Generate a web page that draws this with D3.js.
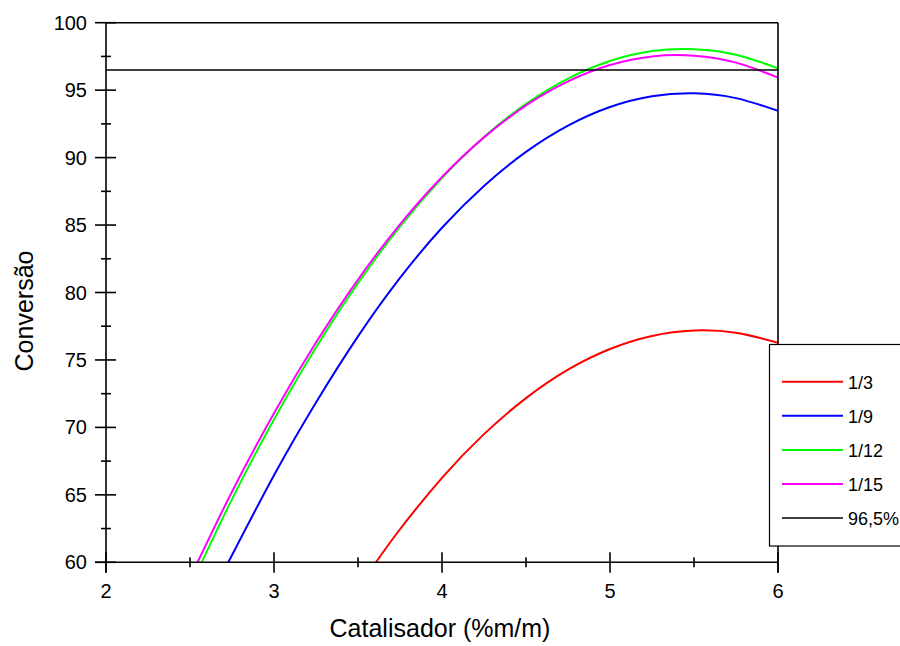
<!DOCTYPE html>
<html><head><meta charset="utf-8">
<script src="https://cdn.jsdelivr.net/npm/d3@7/dist/d3.min.js"></script>
<style>body{margin:0;background:#fff}svg{display:block}text{font-family:"Liberation Sans",Arial,sans-serif;fill:#000}</style>
</head><body><svg id="c" width="900" height="646"></svg>
<script>
const xTicks = [2, 3, 4, 5, 6];
const yTicks = [60, 65, 70, 75, 80, 85, 90, 95, 100];
const seriesNames = ["1/3", "1/9", "1/12", "1/15"];
const seriesColors = ["#ff0000", "#0000ff", "#00ff00", "#ff00ff"];
const refValue = 96.5;
const refLabel = "96,5%";
const xs13 = [3.607, 3.75, 4.0, 4.25, 4.5, 4.75, 5.0, 5.25, 5.5, 5.75, 6.0];
const ys13 = [60.0, 62.45, 66.26, 69.5, 72.17, 74.28, 75.81, 76.78, 77.18, 77.01, 76.27];
const xs19 = [2.728, 3.0, 3.25, 3.5, 3.75, 4.0, 4.25, 4.5, 4.75, 5.0, 5.25, 5.5, 5.75, 6.0];
const ys19 = [60.0, 66.45, 71.85, 76.75, 81.08, 84.8, 87.9, 90.42, 92.37, 93.75, 94.55, 94.77, 94.41, 93.47];
const xs112 = [2.57, 2.75, 3.0, 3.25, 3.5, 3.75, 4.0, 4.25, 4.5, 4.75, 5.0, 5.25, 5.5, 5.75, 6.0];
const ys112 = [60.0, 64.68, 70.59, 75.93, 80.69, 84.88, 88.48, 91.52, 93.98, 95.86, 97.16, 97.9, 98.04, 97.63, 96.62];
const xs115 = [2.545, 2.75, 3.0, 3.25, 3.5, 3.75, 4.0, 4.25, 4.5, 4.75, 5.0, 5.25, 5.5, 5.75, 6.0];
const ys115 = [60.0, 65.23, 71.05, 76.29, 80.96, 85.05, 88.56, 91.5, 93.87, 95.65, 96.86, 97.5, 97.55, 97.04, 95.94];

const svg = d3.select("#c");
const L = 106, R = 778, T = 22.7, B = 562.3;
const x = d3.scaleLinear().domain([2, 6]).range([L, R]);
const y = d3.scaleLinear().domain([60, 100]).range([B, T]);

const series = [
  {name: seriesNames[0], color: seriesColors[0], pts: d3.zip(xs13, ys13)},
  {name: seriesNames[1], color: seriesColors[1], pts: d3.zip(xs19, ys19)},
  {name: seriesNames[2], color: seriesColors[2], pts: d3.zip(xs112, ys112)},
  {name: seriesNames[3], color: seriesColors[3], pts: d3.zip(xs115, ys115)}
];

const line = d3.line().x(d => x(d[0])).y(d => y(d[1])).curve(d3.curveNatural);
svg.append("clipPath").attr("id", "pc").append("rect")
  .attr("x", L).attr("y", T).attr("width", R - L).attr("height", B - T);
const g = svg.append("g").attr("clip-path", "url(#pc)");
series.forEach(s => {
  g.append("path").attr("d", line(s.pts)).attr("fill", "none")
    .attr("stroke", s.color).attr("stroke-width", 2);
});
svg.append("line").attr("x1", x(2)).attr("x2", x(6)).attr("y1", y(refValue)).attr("y2", y(refValue))
  .attr("stroke", "#000").attr("stroke-width", 1.5);

const ax = svg.append("g").attr("stroke", "#000").attr("stroke-width", 1.6);
ax.append("line").attr("x1", L).attr("x2", L).attr("y1", T).attr("y2", B + 10.5);
ax.append("line").attr("x1", L - 11).attr("x2", R).attr("y1", B).attr("y2", B);
ax.append("line").attr("x1", L).attr("x2", R).attr("y1", T).attr("y2", T);
ax.append("line").attr("x1", R).attr("x2", R).attr("y1", T).attr("y2", B + 10.5);

yTicks.forEach(v => {
  ax.append("line").attr("x1", L - 11).attr("x2", L + 10).attr("y1", y(v)).attr("y2", y(v));
  if (v < 100) ax.append("line").attr("x1", L - 5).attr("x2", L + 5).attr("y1", y(v + 2.5)).attr("y2", y(v + 2.5));
  svg.append("text").attr("x", L - 19).attr("y", y(v) + 7).attr("text-anchor", "end")
    .attr("font-size", 20).text(v);
});
xTicks.forEach(v => {
  ax.append("line").attr("x1", x(v)).attr("x2", x(v)).attr("y1", B - 10).attr("y2", B + 10.5);
  if (v < 6) ax.append("line").attr("x1", x(v + 0.5)).attr("x2", x(v + 0.5)).attr("y1", B - 5).attr("y2", B + 5);
  svg.append("text").attr("x", x(v)).attr("y", 598).attr("text-anchor", "middle")
    .attr("font-size", 20).text(v);
});

svg.append("text").attr("x", 440).attr("y", 637).attr("text-anchor", "middle")
  .attr("font-size", 25).text("Catalisador (%m/m)");
svg.append("text").attr("transform", "translate(33,311) rotate(-90)").attr("text-anchor", "middle")
  .attr("font-size", 25).text("Conversão");

const lg = svg.append("g");
lg.append("rect").attr("x", 769.5).attr("y", 344.5).attr("width", 140).attr("height", 201.5)
  .attr("fill", "#fff").attr("stroke", "#000").attr("stroke-width", 1.2);
const items = series.map(s => ({name: s.name, color: s.color, w: 2}))
  .concat([{name: refLabel, color: "#000", w: 1.5}]);
items.forEach((it, i) => {
  const yy = 381.7 + i * 34.1;
  lg.append("line").attr("x1", 782).attr("x2", 843).attr("y1", yy).attr("y2", yy)
    .attr("stroke", it.color).attr("stroke-width", it.w);
  lg.append("text").attr("x", 848).attr("y", yy + 7).attr("font-size", 18).text(it.name);
});
</script></body></html>
